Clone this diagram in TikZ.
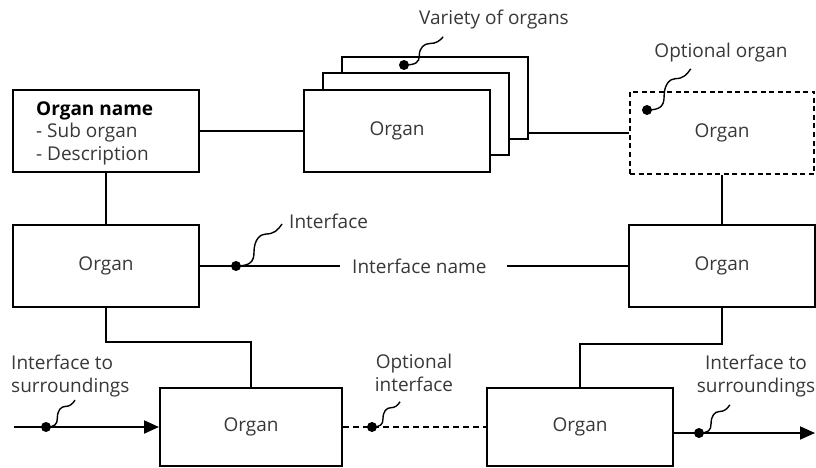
\documentclass[tikz,border=0pt]{standalone}
\usepackage{fontspec}
\setmainfont{Open Sans}
\usetikzlibrary{arrows.meta,calc}
\definecolor{txt}{HTML}{383838}
\newcommand{\organfont}{\fontsize{19}{22.5}\selectfont}
\newcommand{\squigto}[3]{%
  \begin{scope}[shift={(#1)},xscale=#2,yscale=#3]
    \draw[squig] (0,0) .. controls (14,0) and (18,-4) .. (18,-14)
      .. controls (18,-26) and (24,-32) .. (30,-32)
      .. controls (38,-32) and (42,-36) .. (46,-42);
  \end{scope}}
\begin{document}
\begin{tikzpicture}[x=1pt,y=-1pt,
  organ/.style={draw=black, line width=2pt, fill=white, inner sep=0pt, font=\organfont, text=txt},
  lbl/.style={font=\organfont, text=txt, inner sep=0pt},
  dot/.style={circle, fill=black, inner sep=0pt, minimum size=10pt},
  link/.style={line width=2pt},
  dlink/.style={line width=1.6pt, dash pattern=on 6pt off 4pt},
  squig/.style={line width=1.4pt},
  tip/.style={-{Triangle[length=15pt,width=13pt]}}]
\useasboundingbox (0,0) rectangle (816,468);

% boxes
\node[organ, minimum width=186pt, minimum height=82pt] (A) at (106,131) {};
\node[lbl, anchor=west, align=left] (At) at (36,133) {{\color{black}\bfseries Organ name}\\- Sub organ\\- Description};

\node[organ, minimum width=186pt, minimum height=82pt] (S3) at (435,98) {};
\node[organ, minimum width=186pt, minimum height=82pt] (S2) at (416,114) {};
\node[organ, minimum width=186pt, minimum height=82pt] (S1) at (397,131) {Organ};

\node[organ, line width=1.6pt, dash pattern=on 5pt off 3.5pt, minimum width=184pt, minimum height=82pt] (O) at (722,133) {Organ};

\node[organ, minimum width=186pt, minimum height=82pt] (M1) at (106,266) {Organ};
\node[organ, minimum width=186pt, minimum height=82pt] (M2) at (722,266) {Organ};

\node[organ, minimum width=182pt, minimum height=78pt] (B1) at (251,427) {Organ};
\node[organ, minimum width=186pt, minimum height=78pt] (B2) at (580,427) {Organ};

% labels
\node[lbl] (Lvar) at (494,20) {Variety of organs};
\node[lbl] (Lopt) at (721,53) {Optional organ};
\node[lbl, anchor=west] (Lif) at (289,221) {Interface};
\node[lbl, anchor=west] (Lifn) at (352,266) {Interface name};
\node[lbl, anchor=west, align=left] (Lsl) at (11,376) {Interface to\\surroundings};
\node[lbl, align=center] (Loi) at (414,373) {Optional\\interface};
\node[lbl, align=center] (Lsr) at (756,376) {Interface to\\surroundings};

% connectors
\draw[link] (A.east) -- (S1.west);
\draw[link] (S3.east |- O.west) -- (O.west);
\draw[link] (A.south) -- (A.south |- M1.north);
\draw[link] (O.south) -- (O.south |- M2.north);
\coordinate (ie1) at (340,266);
\coordinate (ie2) at (507,266);
\draw[link] (M1.east) -- (ie1);
\draw[link] (ie2) -- (M2.west);
\draw[link] (M1.south) -- ++(0,34) -| (B1.north);
\draw[link] (M2.south) -- ++(0,36) -| (B2.north);
\coordinate (in0) at (14,427);
\draw[link, tip] (in0) -- (B1.west |- in0);
\draw[dlink] (B1.east) -- (B2.west);
\coordinate (out0) at (815,433);
\draw[link, tip] (B2.east |- out0) -- (out0);

% dots
\node[dot] (d1) at (404,65) {};
\node[dot] (d2) at (647,110) {};
\node[dot] (d3) at (236,266) {};
\node[dot] (d4) at (46,427) {};
\node[dot] (d5) at (372,427) {};
\node[dot] (d6) at (699,433) {};

% squiggles
\squigto{d1}{0.85}{0.67}
\squigto{d2}{0.95}{0.98}
\squigto{d3}{1}{1}
\squigto{d4}{0.63}{0.64}
\squigto{d5}{0.61}{0.6}
\squigto{d6}{0.67}{0.67}
\end{tikzpicture}
\end{document}
